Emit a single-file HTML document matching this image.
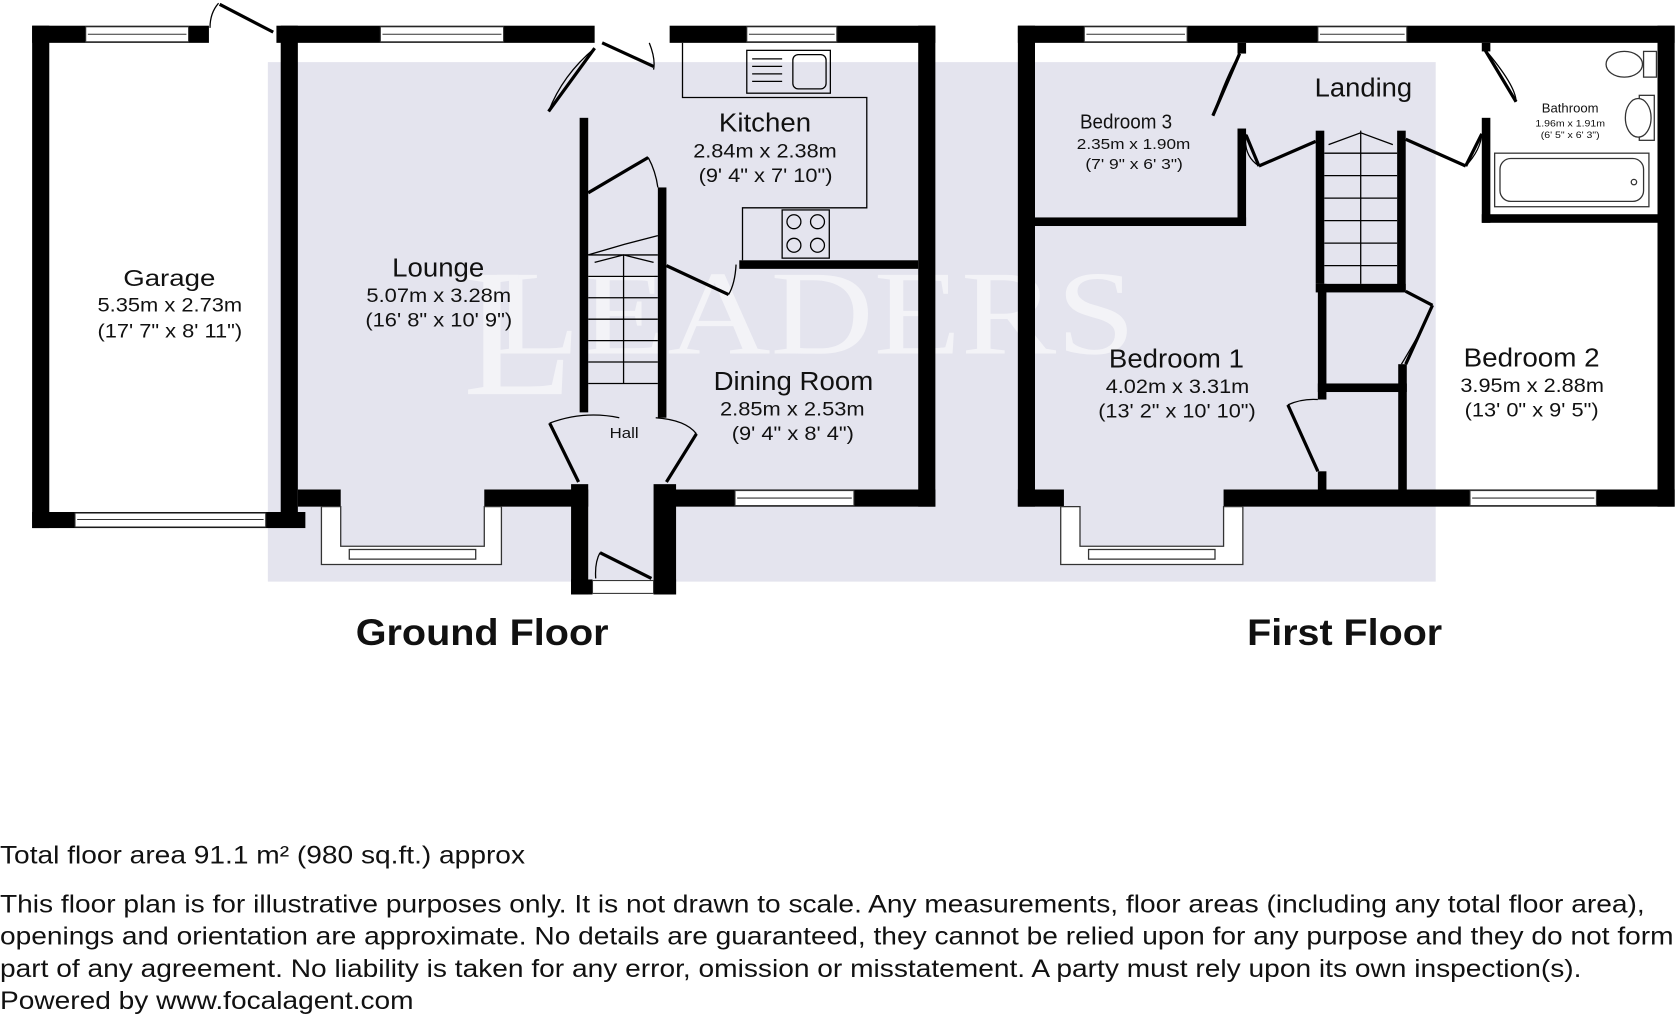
<!DOCTYPE html>
<html><head><meta charset="utf-8"><style>
html,body{margin:0;padding:0;background:#fff;width:1680px;height:1024px;overflow:hidden}
svg{display:block}
text{font-family:"Liberation Sans",Arial,sans-serif;fill:#111}
</style></head><body>
<svg width="1680" height="1024" viewBox="0 0 1568 956" preserveAspectRatio="none" xmlns="http://www.w3.org/2000/svg">
<rect x="250" y="58" width="1090" height="485" fill="#e4e4ee"/>
<text x="460" y="330" font-size="112" style="fill:#f3f3f7;font-family:'Liberation Serif',serif" textLength="600" lengthAdjust="spacingAndGlyphs">LEADERS</text>
<text x="432" y="368" font-size="170" style="fill:#f3f3f7;font-family:'Liberation Serif',serif">L</text>
<g fill="#000">
<rect x="30" y="24" width="165" height="16"/>
<rect x="258" y="24" width="297" height="16"/>
<rect x="30" y="24" width="16" height="469"/>
<rect x="30" y="478" width="255" height="15"/>
<rect x="262" y="24" width="16" height="454"/>
<rect x="278" y="457" width="40" height="16"/>
<rect x="452" y="457" width="97" height="16"/>
<rect x="625" y="24" width="248" height="16"/>
<rect x="857" y="24" width="16" height="449"/>
<rect x="690" y="243" width="167" height="8"/>
<rect x="622" y="457" width="251" height="16"/>
<rect x="541" y="110" width="8" height="275"/>
<rect x="614" y="175" width="8" height="215"/>
<rect x="533" y="452" width="16" height="103"/>
<rect x="610" y="452" width="21" height="103"/>
<rect x="533" y="541" width="20" height="14"/>
<rect x="610" y="541" width="21" height="14"/>
<rect x="950" y="24" width="613" height="16"/>
<rect x="950" y="24" width="16" height="449"/>
<rect x="1547" y="24" width="16" height="449"/>
<rect x="950" y="457" width="43" height="16"/>
<rect x="1142" y="457" width="421" height="16"/>
<rect x="966" y="203" width="197" height="8"/>
<rect x="1155" y="120" width="8" height="91"/>
<rect x="1155" y="40" width="8" height="10"/>
<rect x="1383" y="110" width="8" height="98"/>
<rect x="1383" y="200" width="164" height="8"/>
<rect x="1383" y="40" width="8" height="8"/>
<rect x="1228" y="122" width="8" height="143"/>
<rect x="1304" y="122" width="8" height="150"/>
<rect x="1228" y="265" width="84" height="8"/>
<rect x="1230" y="265" width="8" height="108"/>
<rect x="1230" y="440" width="8" height="17"/>
<rect x="1305" y="340" width="8" height="117"/>
<rect x="1230" y="358" width="83" height="8"/>
</g>
<g fill="#fff" stroke="#333" stroke-width="1">
<rect x="80" y="25" width="96" height="14"/><line x1="82" y1="32" x2="174" y2="32"/>
<rect x="355" y="25" width="115" height="14"/><line x1="357" y1="32" x2="468" y2="32"/>
<rect x="697" y="25" width="84" height="14"/><line x1="699" y1="32" x2="779" y2="32"/>
<rect x="70" y="479" width="178" height="13"/><line x1="72" y1="485" x2="246" y2="485"/>
<rect x="686" y="458" width="111" height="14"/><line x1="688" y1="465" x2="795" y2="465"/>
<rect x="1012" y="25" width="96" height="14"/><line x1="1014" y1="32" x2="1106" y2="32"/>
<rect x="1230" y="25" width="83" height="14"/><line x1="1232" y1="32" x2="1311" y2="32"/>
<rect x="1372" y="458" width="118" height="14"/><line x1="1374" y1="465" x2="1488" y2="465"/>
<rect x="553" y="542" width="57" height="12"/>
</g>
<g fill="#fff" stroke="#333" stroke-width="1.2">
<path d="M300 473 H318 V510 H452 V473 H468 V527 H300 Z"/>
<rect x="326" y="513" width="118" height="9"/>
<path d="M990 473 H1008 V510 H1142 V473 H1160 V527 H990 Z"/>
<rect x="1016" y="513" width="118" height="9"/>
</g>
<g fill="none" stroke="#000" stroke-width="1.2">
<path d="M637 40 V91 H809 V194 H693 V243"/>
<rect x="697" y="47" width="78" height="40"/>
<rect x="740" y="51" width="31" height="32" rx="5"/>
<path d="M702 55 H730 M702 62 H730 M702 69 H730 M702 76 H730"/>
<rect x="730" y="196" width="44" height="45"/>
<circle cx="741" cy="207" r="6.5"/><circle cx="763" cy="207" r="6.5"/><circle cx="741" cy="229" r="6.5"/><circle cx="763" cy="229" r="6.5"/>
<path d="M549 238 H614 M549 258 H614 M549 278 H614 M549 298 H614 M549 318 H614 M549 338 H614 M549 358 H614 M582 238 V358"/>
<path d="M555 245 L582 238 L610 245 M549 238 L583 228 L614 220"/>
<path d="M1236 143 H1304 M1236 164 H1304 M1236 185 H1304 M1236 206 H1304 M1236 227 H1304 M1236 248 H1304 M1270 122 V265 M1240 135 L1270 124 L1300 135"/>
<path d="M196 26 Q196 12 204 3 M606 40 Q612 55 610 65 M512 104 Q525 70 555 45 M605 147 Q612 160 614 175 M687 247 Q686 265 680 275 M513 395 Q545 383 578 390 M612 390 Q640 392 650 405 M556 540 Q555 525 560 516 M1132 108 Q1145 70 1157 50 M1175 155 Q1160 145 1163 125 M1368 155 Q1382 140 1383 125 M1385 45 Q1415 80 1415 95 M1337 285 Q1332 300 1308 340 M1202 378 Q1215 372 1230 373"/>
</g>
<g fill="none" stroke="#000" stroke-width="3">
<path d="M205 4 L255 30 M562 40 L610 62 M555 45 L512 104 M549 180 L605 147 M622 248 L680 275 M513 395 L540 450 M650 405 L622 450 M560 516 L608 540 M1157 50 L1132 108 M1163 126 L1175 155 M1175 155 L1228 132 M1312 130 L1368 155 M1383 125 L1368 155 M1385 45 L1415 95 M1312 272 L1337 285 M1312 340 L1337 285 M1202 378 L1230 440"/>
</g>
<g fill="#fff" stroke="#333" stroke-width="1.2">
<rect x="1395" y="143" width="144" height="50"/>
<rect x="1400" y="148" width="134" height="40" rx="10"/>
<circle cx="1525" cy="170" r="2.5"/>
<rect x="1534" y="48" width="12" height="24"/>
<ellipse cx="1516" cy="60" rx="17" ry="12"/>
<rect x="1530" y="89" width="14" height="42"/>
<ellipse cx="1529" cy="110" rx="12" ry="18"/>
</g>
<g>
<text x="115" y="267" font-size="22" textLength="86" lengthAdjust="spacingAndGlyphs">Garage</text>
<text x="91" y="291" font-size="18" textLength="135" lengthAdjust="spacingAndGlyphs">5.35m x 2.73m</text>
<text x="91" y="315" font-size="18" textLength="135" lengthAdjust="spacingAndGlyphs">(17' 7" x 8' 11")</text>
<text x="366" y="258" font-size="24" textLength="86" lengthAdjust="spacingAndGlyphs">Lounge</text>
<text x="342" y="282" font-size="18" textLength="135" lengthAdjust="spacingAndGlyphs">5.07m x 3.28m</text>
<text x="341" y="305" font-size="18" textLength="137" lengthAdjust="spacingAndGlyphs">(16' 8" x 10' 9")</text>
<text x="671" y="123" font-size="24" textLength="86" lengthAdjust="spacingAndGlyphs">Kitchen</text>
<text x="647" y="147" font-size="18" textLength="134" lengthAdjust="spacingAndGlyphs">2.84m x 2.38m</text>
<text x="652" y="170" font-size="18" textLength="125" lengthAdjust="spacingAndGlyphs">(9' 4" x 7' 10")</text>
<text x="666" y="364" font-size="24" textLength="149" lengthAdjust="spacingAndGlyphs">Dining Room</text>
<text x="672" y="388" font-size="18" textLength="135" lengthAdjust="spacingAndGlyphs">2.85m x 2.53m</text>
<text x="683" y="411" font-size="18" textLength="114" lengthAdjust="spacingAndGlyphs">(9' 4" x 8' 4")</text>
<text x="569" y="409" font-size="14" textLength="27" lengthAdjust="spacingAndGlyphs">Hall</text>
<text x="332" y="602" font-size="35" font-weight="bold" textLength="236" lengthAdjust="spacingAndGlyphs">Ground Floor</text>
<text x="1164" y="602" font-size="35" font-weight="bold" textLength="182" lengthAdjust="spacingAndGlyphs">First Floor</text>
<text x="1008" y="120" font-size="19" textLength="86" lengthAdjust="spacingAndGlyphs">Bedroom 3</text>
<text x="1005" y="139" font-size="14" textLength="106" lengthAdjust="spacingAndGlyphs">2.35m x 1.90m</text>
<text x="1013" y="158" font-size="14" textLength="91" lengthAdjust="spacingAndGlyphs">(7' 9" x 6' 3")</text>
<text x="1227" y="90" font-size="24" textLength="91" lengthAdjust="spacingAndGlyphs">Landing</text>
<text x="1439" y="105" font-size="12" textLength="53" lengthAdjust="spacingAndGlyphs">Bathroom</text>
<text x="1433" y="118" font-size="9" textLength="65" lengthAdjust="spacingAndGlyphs">1.96m x 1.91m</text>
<text x="1438" y="129" font-size="9" textLength="55" lengthAdjust="spacingAndGlyphs">(6' 5" x 6' 3")</text>
<text x="1035" y="343" font-size="24" textLength="126" lengthAdjust="spacingAndGlyphs">Bedroom 1</text>
<text x="1032" y="367" font-size="18" textLength="134" lengthAdjust="spacingAndGlyphs">4.02m x 3.31m</text>
<text x="1025" y="390" font-size="18" textLength="147" lengthAdjust="spacingAndGlyphs">(13' 2" x 10' 10")</text>
<text x="1366" y="342" font-size="24" textLength="127" lengthAdjust="spacingAndGlyphs">Bedroom 2</text>
<text x="1363" y="366" font-size="18" textLength="134" lengthAdjust="spacingAndGlyphs">3.95m x 2.88m</text>
<text x="1367" y="389" font-size="18" textLength="125" lengthAdjust="spacingAndGlyphs">(13' 0" x 9' 5")</text>
</g>
<g font-size="23">
<text x="0" y="806" textLength="490" lengthAdjust="spacingAndGlyphs">Total floor area 91.1 m² (980 sq.ft.) approx</text>
<text x="0" y="852" textLength="1535" lengthAdjust="spacingAndGlyphs">This floor plan is for illustrative purposes only. It is not drawn to scale. Any measurements, floor areas (including any total floor area),</text>
<text x="0" y="882" textLength="1562" lengthAdjust="spacingAndGlyphs">openings and orientation are approximate. No details are guaranteed, they cannot be relied upon for any purpose and they do not form</text>
<text x="0" y="912" textLength="1476" lengthAdjust="spacingAndGlyphs">part of any agreement. No liability is taken for any error, omission or misstatement. A party must rely upon its own inspection(s).</text>
<text x="0" y="942" textLength="386" lengthAdjust="spacingAndGlyphs">Powered by www.focalagent.com</text>
</g>
</svg>
</body></html>
